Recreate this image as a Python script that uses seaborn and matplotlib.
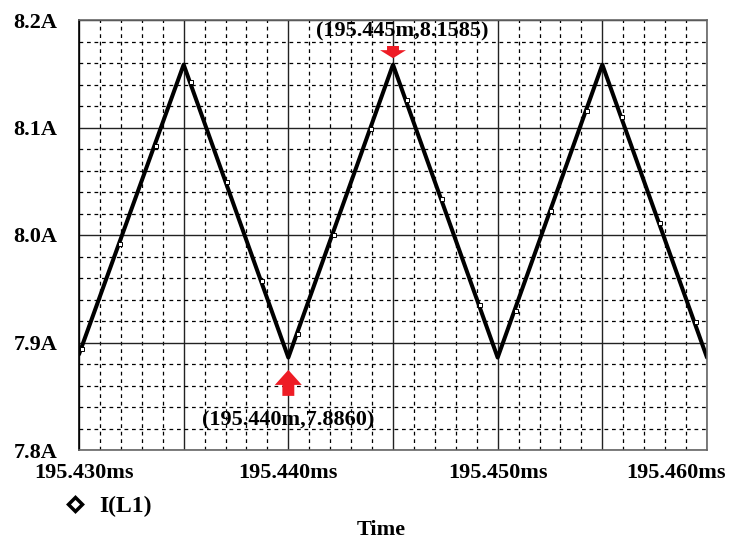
import numpy as np
import matplotlib
matplotlib.use("Agg")
import matplotlib.pyplot as plt
import matplotlib.transforms as mtrans
from matplotlib.lines import Line2D
import pandas as pd
import seaborn as sns

# Trace vertices (time in ms, current in A)
time_ms = [195.430, 195.435, 195.440, 195.445, 195.450, 195.455, 195.460]
current_a = [7.889, 8.1585, 7.886, 8.1585, 7.886, 8.1585, 7.886]

# Positions of the small trace markers along the curve
marker_ms = [195.4301, 195.4319, 195.4336, 195.4353, 195.4370, 195.4387,
             195.4404, 195.4421, 195.4439, 195.4456, 195.4473, 195.4491,
             195.4508, 195.4525, 195.4542, 195.4559, 195.4577, 195.4594]

x_ticks = [195.430, 195.435, 195.440, 195.445, 195.450, 195.455, 195.460]
x_labels = ["195.430ms", "", "195.440ms", "", "195.450ms", "", "195.460ms"]
y_ticks = [7.8, 7.9, 8.0, 8.1, 8.2]
y_labels = ["7.8A", "7.9A", "8.0A", "8.1A", "8.2A"]

# Cursor readouts
peak = (195.445, 8.1585)
trough = (195.440, 7.8860)

sns.set_style("white")
plt.rcParams["font.family"] = ["Liberation Serif", "DejaVu Serif"]
plt.rcParams["font.weight"] = "bold"
plt.rcParams["font.size"] = 16
plt.rcParams["text.color"] = "black"
plt.rcParams["axes.labelcolor"] = "black"
plt.rcParams["xtick.color"] = "black"
plt.rcParams["ytick.color"] = "black"

df = pd.DataFrame({"time": time_ms, "current": current_a})

fig = plt.figure(figsize=(7.31, 5.45), dpi=100)
ax = fig.add_axes([79 / 731, 1 - 450 / 545, 628 / 731, 430 / 545])

# grid first so the trace sits on top
ax.set_xlim(195.430, 195.460)
ax.set_ylim(7.8, 8.2)
ax.set_xticks(x_ticks)
ax.set_xticklabels(x_labels)
ax.set_yticks(y_ticks)
ax.set_yticklabels(y_labels)
ax.set_xticks(np.round(np.arange(195.430, 195.4601, 0.001), 3), minor=True)
ax.set_yticks(np.round(np.arange(7.8, 8.2001, 0.02), 2), minor=True)
ax.grid(which="major", color="#222222", lw=1.0, ls="-")
ax.grid(which="minor", color="black", lw=0.9, ls=(0, (3, 3)))
ax.set_axisbelow(True)

sns.lineplot(data=df, x="time", y="current", color="black", lw=2.9, ax=ax,
             legend=False)
marker_a = np.interp(marker_ms, time_ms, current_a)
ax.plot(np.array(marker_ms) + 0.00006, marker_a, ls="none", marker="s", ms=3.2,
        mfc="white", mec="black", mew=0.7)

ax.tick_params(axis="x", which="major", length=4, width=1, pad=5,
               direction="out", colors="black")
ax.tick_params(axis="y", which="major", length=4.5, width=1, pad=11,
               direction="out", colors="black")
ax.tick_params(which="minor", length=0)
for i, tick in enumerate(ax.xaxis.get_major_ticks()):
    if x_labels[i] == "":
        tick.tick1line.set_visible(False)

# keep the outer labels inside the picture like the original
lbls = ax.get_xticklabels()
lbls[0].set_transform(lbls[0].get_transform() +
                      mtrans.ScaledTranslation(0.05, 0, fig.dpi_scale_trans))
lbls[-1].set_transform(lbls[-1].get_transform() +
                       mtrans.ScaledTranslation(-0.31, 0, fig.dpi_scale_trans))

for side in ["top", "right", "bottom"]:
    ax.spines[side].set_color("#666666")
ax.spines["left"].set_color("black")
for s in ax.spines.values():
    s.set_linewidth(1.2)

ax.set_xlabel("Time", fontsize=16, fontweight="bold", color="black")
ax.set_ylabel("")
ax.xaxis.set_label_coords((381 - 79) / 628, (450 - 520) / 430)

# red cursor arrows and readouts
red = "#ee1c25"
ax.annotate("", xy=peak, xytext=(0, 13.4), textcoords="offset points",
            arrowprops=dict(arrowstyle="simple,head_length=5.8,head_width=18.7,tail_width=8.6",
                            mutation_scale=1, color=red, shrinkA=0, shrinkB=4.6, lw=0))
ax.annotate(f"({peak[0]:.3f}m,{peak[1]:.4f})", xy=peak, xytext=(7, 24),
            textcoords="offset points", ha="center", va="center",
            fontsize=16, fontweight="bold", color="black")
ax.annotate("", xy=trough, xytext=(0, -27.6), textcoords="offset points",
            arrowprops=dict(arrowstyle="simple,head_length=10.8,head_width=19.4,tail_width=8.6",
                            mutation_scale=1, color=red, shrinkA=0, shrinkB=8.9, lw=0))
ax.annotate(f"({trough[0]:.3f}m,{trough[1]:.4f})", xy=trough, xytext=(0, -45),
            textcoords="offset points", ha="center", va="center",
            fontsize=16, fontweight="bold", color="black")

handle = Line2D([], [], ls="none", marker="D", ms=7, mfc="white", mec="black",
                mew=2.5)
ax.legend(handles=[handle], labels=["I(L1)"], loc="center left",
          bbox_to_anchor=(66 / 731, 1 - 506 / 545), bbox_transform=fig.transFigure,
          frameon=False, handlelength=0.8, handletextpad=0.6, borderpad=0,
          borderaxespad=0, prop={"size": 17, "weight": "bold"})

fig.savefig("out.png", dpi=100)
